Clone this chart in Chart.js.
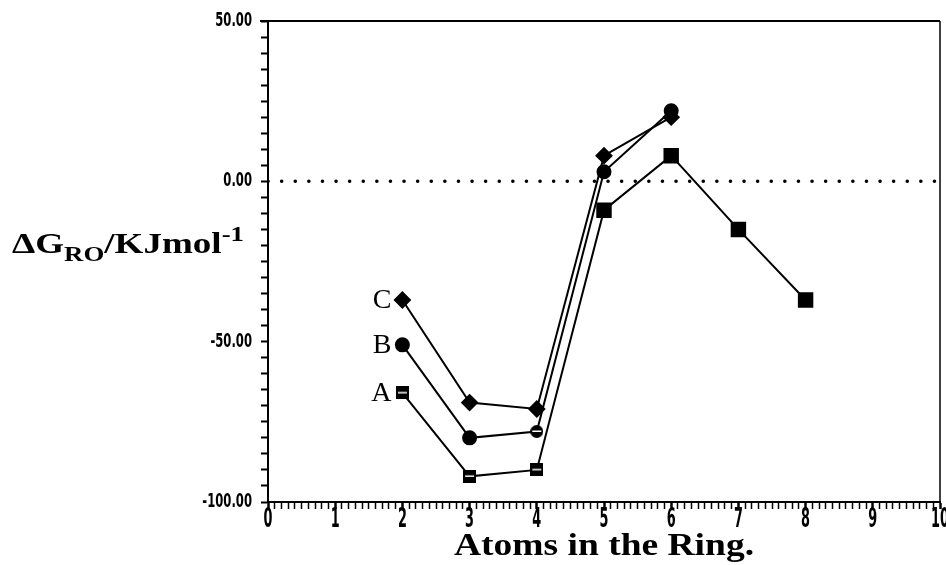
<!DOCTYPE html>
<html>
<head>
<meta charset="utf-8">
<script src="https://cdn.jsdelivr.net/npm/chart.js@4.4.0/dist/chart.umd.min.js"></script>
<style>
  html, body { margin: 0; padding: 0; background: #fff; overflow: hidden; }
  #wrap { width: 946px; height: 565px; position: relative; }
</style>
</head>
<body>
<div id="wrap"><canvas id="ringChart"></canvas></div>
<script>
// data
const atomsA = [2, 3, 4, 5, 6, 7, 8];
const seriesA = [-66, -92, -90, -9, 8, -15, -37];
const atomsBC = [2, 3, 4, 5, 6];
const seriesB = [-51, -80, -78, 3, 22];
const seriesC = [-37, -69, -71, 8, 20];
const seriesNames = ['A', 'B', 'C'];
const xRange = [0, 10];
const yRange = [-100, 50];
const xLabelTicks = [0, 1, 2, 3, 4, 5, 6, 7, 8, 9, 10];
const yLabelTicks = [-100, -50, 0, 50];
const zeroLine = [0, 0];

const narrow = '"Liberation Sans Narrow", "DejaVu Sans Condensed", sans-serif';
const serif = '"Liberation Serif", "Times New Roman", serif';

const toPoints = (xs, ys) => xs.map((x, i) => ({ x, y: ys[i] }));

// scanned markers with a white stripe through them
function stripedMarker(shape, size) {
  const cv = document.createElement('canvas');
  cv.width = size; cv.height = size;
  const g = cv.getContext('2d');
  g.fillStyle = '#000';
  if (shape === 'circle') {
    g.beginPath(); g.arc(size / 2, size / 2, size / 2, 0, Math.PI * 2); g.fill();
  } else {
    g.fillRect(0, 0, size, size);
  }
  g.fillStyle = '#fff';
  g.fillRect(2, size / 2 - 1, size - 4, 1.5);
  return cv;
}
const sqStripe = stripedMarker('rect', 13);
const cirStripe = stripedMarker('circle', 13);

const isInt = v => Math.abs(v - Math.round(v)) < 1e-6;

// text squeezed to a given width (scan uses very condensed type)
function squeezed(g, text, x, y, font, sx) {
  g.save();
  g.font = font;
  g.translate(x, y);
  g.scale(sx, 1);
  g.fillText(text, 0, 0);
  g.restore();
}

// top + right frame
const frame = {
  id: 'frame',
  afterDraw(chart) {
    const { left, right, top, bottom } = chart.chartArea;
    const g = chart.ctx;
    g.save();
    g.strokeStyle = '#000';
    g.lineWidth = 2;
    g.beginPath(); g.moveTo(left - 8, top); g.lineTo(right, top); g.stroke();
    g.lineWidth = 1.5;
    g.beginPath(); g.moveTo(right, top); g.lineTo(right, bottom); g.stroke();
    g.restore();
  }
};

// condensed tick labels + axis titles
const axisText = {
  id: 'axisText',
  afterDraw(chart) {
    const g = chart.ctx;
    const { x, y } = chart.scales;
    g.save();
    g.fillStyle = '#000';
    g.textBaseline = 'middle';

    g.textAlign = 'center';
    xLabelTicks.forEach(v => {
      squeezed(g, String(v), x.getPixelForValue(v), 520, 'bold 26px ' + narrow, 0.55);
    });

    g.textAlign = 'right';
    yLabelTicks.forEach(v => {
      squeezed(g, v.toFixed(2), 252, y.getPixelForValue(v), 'bold 19px ' + narrow, 0.68);
    });

    // x title, stretched to the scan's width
    g.textAlign = 'center';
    g.font = 'bold 31px ' + serif;
    const tw = g.measureText('Atoms in the Ring.').width;
    squeezed(g, 'Atoms in the Ring.', (x.left + x.right) / 2, 547, g.font, 300 / tw);

    // horizontal y title with sub/superscripts
    g.textAlign = 'left';
    g.textBaseline = 'alphabetic';
    const big = 'bold 29px ' + serif, small = 'bold 21px ' + serif;
    const parts = [['ΔG', big, 0], ['RO', small, 8], ['/KJmol', big, 0], ['-1', small, -12]];
    let total = 0;
    for (const [t, f] of parts) { g.font = f; total += g.measureText(t).width; }
    const sx = 232 / total;
    g.translate(12, 0);
    g.scale(sx, 1);
    let cx = 0;
    for (const [t, f, dy] of parts) {
      g.font = f;
      g.fillText(t, cx, 253 + dy);
      cx += g.measureText(t).width;
    }
    g.restore();
  }
};

// A / B / C next to first point of each series
const seriesTags = {
  id: 'seriesTags',
  afterDatasetsDraw(chart) {
    const g = chart.ctx;
    g.save();
    g.fillStyle = '#000';
    g.font = '28px ' + serif;
    g.textAlign = 'right';
    g.textBaseline = 'middle';
    seriesNames.forEach((name, i) => {
      const pt = chart.getDatasetMeta(i).data[0];
      g.fillText(name, pt.x - 11, pt.y + 1);
    });
    g.restore();
  }
};

new Chart(document.getElementById('ringChart'), {
  type: 'line',
  data: {
    datasets: [
      {
        label: seriesNames[0],
        data: toPoints(atomsA, seriesA),
        borderColor: '#000', borderWidth: 2, backgroundColor: '#000',
        pointStyle: [sqStripe, sqStripe, sqStripe, 'rect', 'rect', 'rect', 'rect'],
        pointRadius: 9.5
      },
      {
        label: seriesNames[1],
        data: toPoints(atomsBC, seriesB),
        borderColor: '#000', borderWidth: 2, backgroundColor: '#000',
        pointStyle: ['circle', 'circle', cirStripe, 'circle', 'circle'],
        pointRadius: 6.5
      },
      {
        label: seriesNames[2],
        data: toPoints(atomsBC, seriesC),
        borderColor: '#000', borderWidth: 2, backgroundColor: '#000',
        pointStyle: 'rectRot',
        pointRadius: 7.5
      },
      {
        label: 'zero',
        data: toPoints(xRange, zeroLine),
        borderColor: '#000', borderWidth: 3.5,
        borderDash: [0.1, 13.5], borderCapStyle: 'round',
        pointRadius: 0
      }
    ]
  },
  options: {
    responsive: true,
    maintainAspectRatio: false,
    animation: false,
    layout: { autoPadding: false, padding: { top: 21, right: 6, left: 0, bottom: 0 } },
    plugins: { legend: { display: false }, tooltip: { enabled: false } },
    scales: {
      x: {
        type: 'linear', min: xRange[0], max: xRange[1],
        afterFit: s => { s.paddingRight = 0; s.paddingLeft = 0; s.height = 63; },
        border: { display: true, color: '#000', width: 2 },
        grid: {
          drawOnChartArea: false, tickLength: 7, tickColor: '#000',
          tickWidth: c => isInt(c.tick.value) ? 2.5 : 1.5
        },
        ticks: { display: false, stepSize: 0.1, autoSkip: false }
      },
      y: {
        min: yRange[0], max: yRange[1],
        afterFit: s => { s.width = 268; },
        border: { display: true, color: '#000', width: 2 },
        grid: { drawOnChartArea: false, tickLength: 7, tickColor: '#000', tickWidth: 2 },
        ticks: { display: false, stepSize: 5, autoSkip: false }
      }
    }
  },
  plugins: [frame, axisText, seriesTags]
});
</script>
</body>
</html>
